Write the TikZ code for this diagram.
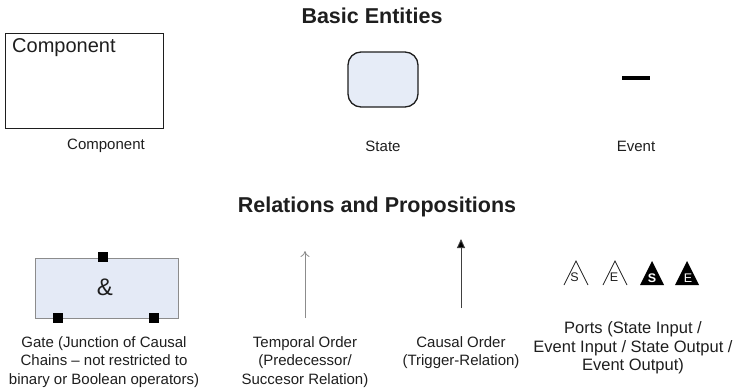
\documentclass[tikz,border=0pt]{standalone}
\usepackage{fontspec}
\setmainfont{Liberation Sans}
\usetikzlibrary{arrows.meta}
\definecolor{txt}{HTML}{1E1E1E}
\definecolor{statefill}{HTML}{E6ECF7}
\definecolor{gatefill}{HTML}{E4EAF6}
\definecolor{gateline}{HTML}{8C8C8C}
\tikzset{
  title/.style={font=\fontsize{21.5}{24}\selectfont\bfseries, text=txt},
  caption/.style={font=\fontsize{15}{18.2}\selectfont, text=txt, align=center},
  pin/.style={fill=black, minimum size=10pt, inner sep=0pt},
  openport/.style={draw=txt, line width=0.8pt, line join=miter},
  fullport/.style={fill=black},
  portletter/.style={font=\fontsize{12.5}{12.5}\selectfont, inner sep=0pt},
}
\begin{document}
\begin{tikzpicture}[x=1pt,y=-1pt]
\useasboundingbox (0,0) rectangle (750,391);

% --- basic entities ---
\node[title] (t1) at (372,16) {Basic Entities};

\node[draw=txt, line width=0.9pt, minimum width=158pt, minimum height=95pt, inner sep=0pt] (comp) at (84,80.5) {};
\node[anchor=north west, font=\fontsize{20}{22}\selectfont, text=txt, inner sep=0pt] (compname) at (12,38) {Component};
\node[caption] (compcap) at (106,146) {Component};

\node[draw=txt, line width=1.3pt, fill=statefill, rounded corners=13pt, minimum width=70pt, minimum height=55pt] (state) at (383,79.5) {};
\node[caption] (statecap) at (383,146) {State};

\node[fill=black, minimum width=28pt, minimum height=4.5pt, inner sep=0pt] (event) at (636,78) {};
\node[caption] (eventcap) at (636,146) {Event};

% --- relations and propositions ---
\node[title] (t2) at (377,207) {Relations and Propositions};

\node[draw=gateline, line width=0.9pt, fill=gatefill, minimum width=143pt, minimum height=60pt, inner sep=0pt] (gate) at (106.5,288) {};
\node[font=\fontsize{24}{24}\selectfont, text=txt] (amp) at (105,287) {\&};
\node[pin] (gpin1) at (103,257) {};
\node[pin] (gpin2) at (58,318) {};
\node[pin] (gpin3) at (154,318) {};
\node[caption] (gatecap) at (104,362) {Gate (Junction of Causal\\Chains -- not restricted to\\binary or Boolean operators)};

\coordinate (tlow) at (305,318);
\coordinate (thigh) at (305,251);
\draw[gateline, line width=0.8pt, -{To[length=6pt,width=9pt]}] (tlow) -- (thigh);
\node[caption] (tempcap) at (305,362) {Temporal Order\\(Predecessor/\\Succesor Relation)};

\coordinate (clow) at (461,308);
\coordinate (chigh) at (461,239);
\draw[black!75, line width=0.9pt, -{Triangle[length=9pt,width=8pt,fill=black]}] (clow) -- (chigh);
\node[caption] (causcap) at (461,353) {Causal Order\\(Trigger-Relation)};

% ports: open (input) and filled (output)
\draw[openport] (564,285) -- (576,261) -- (588,285);
\node[portletter, text=txt] (ps) at (574.5,277) {S};
\draw[openport] (603,285) -- (615,261) -- (627,285);
\node[portletter, text=txt] (pe) at (614,277) {E};
\fill[fullport] (640,285) -- (652,261) -- (664,285) -- cycle;
\node[portletter, text=white, font=\fontsize{12.5}{12.5}\selectfont\bfseries] (os) at (652,278) {S};
\fill[fullport] (675,285) -- (687,261) -- (699,285) -- cycle;
\node[portletter, text=white] (oe) at (688,278) {E};
\node[caption, font=\fontsize{16.5}{18.5}\selectfont] (portcap) at (633,348) {Ports (State Input /\\Event Input / State Output /\\Event Output)};
\end{tikzpicture}
\end{document}
